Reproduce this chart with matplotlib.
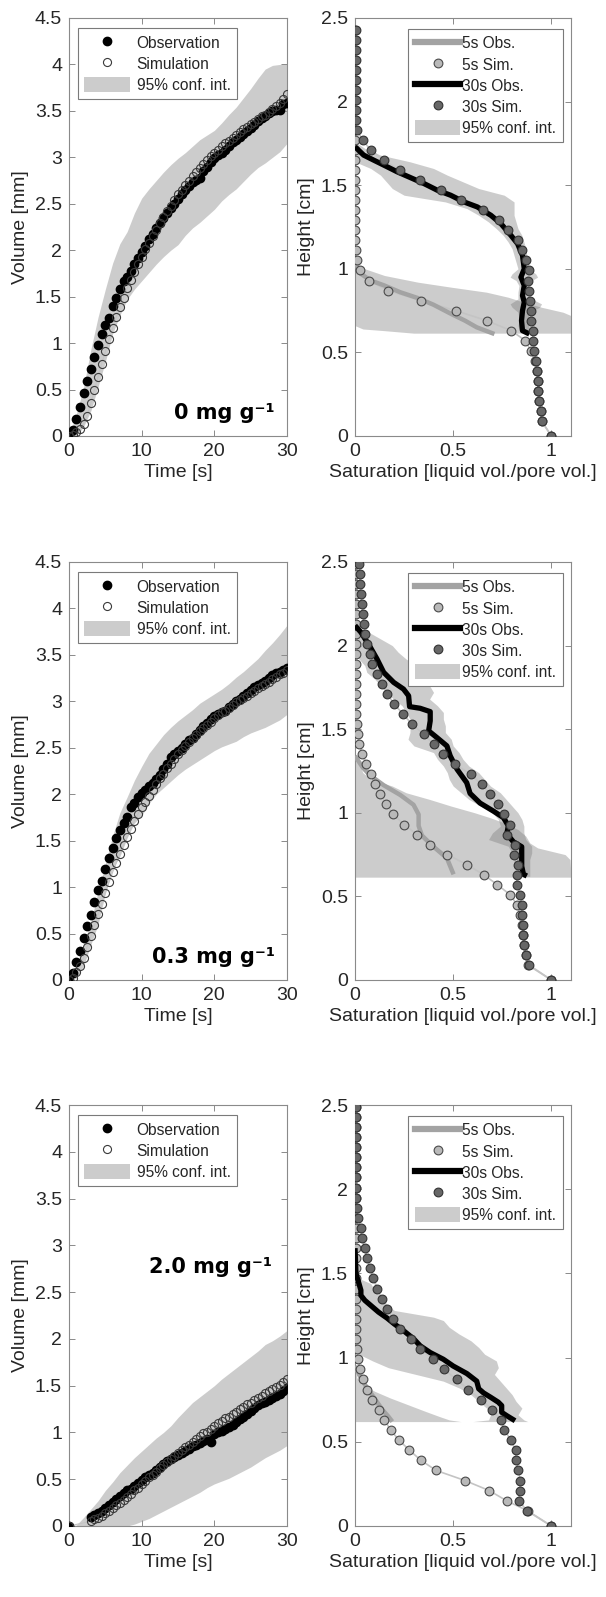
import numpy as np
import matplotlib
matplotlib.use('Agg')
import matplotlib.pyplot as plt
from matplotlib.ticker import FuncFormatter, FixedLocator
from matplotlib.lines import Line2D
from matplotlib.patches import Patch

plt.rcParams['font.family'] = ['Liberation Sans', 'DejaVu Sans']

# ---------------- left column: volume vs time ----------------
TIME = [0, 0.5, 1, 1.5, 2, 2.5, 3, 3.5, 4, 4.5, 5, 5.5, 6, 6.5, 7, 7.5, 8, 8.5, 9, 9.5,
        10, 10.5, 11, 11.5, 12, 12.5, 13, 13.5, 14, 14.5, 15, 15.5, 16, 16.5, 17, 17.5,
        18, 18.5, 19, 19.5, 20, 20.5, 21, 21.5, 22, 22.5, 23, 23.5, 24, 24.5, 25, 25.5,
        26, 26.5, 27, 27.5, 28, 28.5, 29, 29.5, 30]

OBS_0 = [0, 0.06, 0.18, 0.31, 0.46, 0.59, 0.72, 0.85, 0.98, 1.10, 1.19, 1.27, 1.40, 1.49,
         1.58, 1.67, 1.71, 1.78, 1.85, 1.92, 1.98, 2.05, 2.12, 2.18, 2.24, 2.29, 2.35, 2.40,
         2.45, 2.50, 2.55, 2.60, 2.65, 2.69, 2.73, 2.76, 2.78, 2.85, 2.90, 2.95, 2.99, 3.02,
         3.05, 3.08, 3.12, 3.16, 3.19, 3.22, 3.25, 3.28, 3.32, 3.35, 3.39, 3.42, 3.45, 3.48,
         3.50, 3.51, 3.51, 3.57, 3.59]
SIM_0 = [0, 0.01, 0.04, 0.07, 0.13, 0.22, 0.35, 0.50, 0.64, 0.78, 0.91, 1.04, 1.16, 1.28,
         1.39, 1.49, 1.59, 1.68, 1.77, 1.85, 1.93, 2.01, 2.08, 2.15, 2.22, 2.29, 2.36, 2.42,
         2.48, 2.54, 2.60, 2.65, 2.70, 2.75, 2.80, 2.84, 2.89, 2.93, 2.97, 3.01, 3.05, 3.08,
         3.12, 3.15, 3.18, 3.21, 3.24, 3.27, 3.30, 3.33, 3.36, 3.38, 3.41, 3.44, 3.46, 3.49,
         3.52, 3.55, 3.59, 3.63, 3.68]

OBS_03 = [0, 0.07, 0.19, 0.31, 0.45, 0.58, 0.70, 0.84, 0.97, 1.07, 1.19, 1.31, 1.42, 1.53,
          1.61, 1.69, 1.76, 1.86, 1.91, 1.97, 2.01, 2.05, 2.09, 2.12, 2.16, 2.21, 2.27, 2.33,
          2.40, 2.43, 2.47, 2.50, 2.54, 2.58, 2.61, 2.65, 2.69, 2.73, 2.77, 2.81, 2.84, 2.86,
          2.88, 2.90, 2.94, 2.97, 3.00, 3.03, 3.06, 3.09, 3.12, 3.15, 3.18, 3.20, 3.22, 3.25,
          3.28, 3.30, 3.32, 3.34, 3.36]
SIM_03 = [0, 0.02, 0.09, 0.15, 0.24, 0.36, 0.47, 0.59, 0.71, 0.82, 0.94, 1.05, 1.16, 1.26,
          1.36, 1.45, 1.54, 1.63, 1.71, 1.79, 1.86, 1.92, 1.98, 2.05, 2.11, 2.17, 2.22, 2.28,
          2.33, 2.38, 2.43, 2.48, 2.52, 2.56, 2.60, 2.64, 2.68, 2.71, 2.74, 2.78, 2.82, 2.85,
          2.88, 2.90, 2.93, 2.96, 2.99, 3.01, 3.04, 3.06, 3.09, 3.11, 3.14, 3.16, 3.19, 3.21,
          3.24, 3.26, 3.29, 3.31, 3.34]

TIME_20 = [0, 3, 3.5, 4, 4.5, 5, 5.5, 6, 6.5, 7, 7.5, 8, 8.5, 9, 9.5, 10, 10.5, 11, 11.5,
           12, 12.5, 13, 13.5, 14, 14.5, 15, 15.5, 16, 16.5, 17, 17.5, 18, 18.5, 19, 19.5,
           20, 20.5, 21, 21.5, 22, 22.5, 23, 23.5, 24, 24.5, 25, 25.5, 26, 26.5, 27, 27.5,
           28, 28.5, 29, 29.5, 30]
OBS_20 = [0, 0.10, 0.12, 0.14, 0.16, 0.19, 0.22, 0.26, 0.29, 0.32, 0.35, 0.38, 0.40, 0.43,
          0.46, 0.49, 0.52, 0.55, 0.57, 0.60, 0.63, 0.66, 0.69, 0.72, 0.74, 0.76, 0.78, 0.80,
          0.82, 0.85, 0.87, 0.89, 0.91, 0.93, 0.90, 0.98, 1.00, 1.02, 1.04, 1.06, 1.08, 1.11,
          1.14, 1.17, 1.20, 1.23, 1.26, 1.29, 1.31, 1.33, 1.35, 1.37, 1.39, 1.41, 1.44, 1.47]
SIM_20 = [0, 0.05, 0.07, 0.09, 0.11, 0.14, 0.16, 0.19, 0.22, 0.25, 0.28, 0.31, 0.34, 0.38,
          0.41, 0.45, 0.48, 0.52, 0.55, 0.58, 0.62, 0.65, 0.68, 0.72, 0.75, 0.78, 0.81, 0.84,
          0.87, 0.90, 0.93, 0.96, 0.99, 1.01, 1.04, 1.07, 1.10, 1.12, 1.15, 1.17, 1.20, 1.22,
          1.25, 1.27, 1.30, 1.32, 1.35, 1.37, 1.39, 1.42, 1.44, 1.46, 1.49, 1.51, 1.54, 1.57]

TIME_CI = [0, 1, 2, 3, 4, 5, 6, 7, 8, 9, 10, 11, 12, 13, 14, 15, 16, 17, 18, 19, 20,
           21, 22, 23, 24, 25, 26, 27, 28, 29, 30]
CI_LO_0 = [0, 0.0, 0.10, 0.27, 0.53, 0.80, 1.10, 1.30, 1.47, 1.58, 1.67, 1.76, 1.85, 1.93,
           2.00, 2.06, 2.16, 2.24, 2.30, 2.37, 2.44, 2.53, 2.60, 2.66, 2.74, 2.82, 2.89,
           2.94, 3.00, 3.06, 3.15]
CI_HI_0 = [0, 0.23, 0.52, 0.93, 1.28, 1.58, 1.86, 2.07, 2.20, 2.40, 2.56, 2.66, 2.75, 2.84,
           2.92, 2.99, 3.05, 3.12, 3.19, 3.24, 3.29, 3.37, 3.46, 3.54, 3.64, 3.74, 3.85,
           3.95, 3.99, 4.00, 4.01]
CI_LO_03 = [0, 0.02, 0.15, 0.38, 0.60, 0.93, 1.20, 1.33, 1.53, 1.69, 1.77, 1.90, 2.00, 2.07,
            2.14, 2.21, 2.27, 2.32, 2.37, 2.42, 2.47, 2.51, 2.54, 2.57, 2.62, 2.66, 2.69,
            2.72, 2.76, 2.80, 2.86]
CI_HI_03 = [0, 0.14, 0.38, 0.62, 0.95, 1.25, 1.55, 1.80, 1.97, 2.15, 2.30, 2.44, 2.54, 2.64,
            2.72, 2.79, 2.85, 2.91, 2.98, 3.03, 3.08, 3.13, 3.19, 3.26, 3.32, 3.39, 3.46,
            3.55, 3.63, 3.72, 3.82]
CI_LO_20 = [0, 0, 0, 0, 0, 0, 0, 0, 0.0, 0.02, 0.05, 0.08, 0.12, 0.16, 0.20, 0.24, 0.28,
            0.32, 0.36, 0.41, 0.45, 0.48, 0.51, 0.55, 0.59, 0.63, 0.68, 0.73, 0.77, 0.81, 0.86]
CI_HI_20 = [0, 0.01, 0.09, 0.18, 0.27, 0.38, 0.47, 0.57, 0.65, 0.73, 0.80, 0.87, 0.94, 1.00,
            1.07, 1.16, 1.24, 1.32, 1.38, 1.44, 1.50, 1.57, 1.63, 1.69, 1.75, 1.81, 1.87,
            1.94, 1.98, 2.03, 2.09]

CONC_LABELS = ['0 mg g\u207b\u00b9', '0.3 mg g\u207b\u00b9', '2.0 mg g\u207b\u00b9']

# ---------------- right column: saturation profiles ----------------
NAN = float('nan')
HEIGHT = [0.00, 0.09, 0.15, 0.21, 0.27, 0.33, 0.39, 0.45, 0.51, 0.57, 0.63, 0.69, 0.75,
          0.81, 0.87, 0.93, 0.99, 1.05, 1.11, 1.17, 1.23, 1.29, 1.35, 1.41, 1.47, 1.53,
          1.59, 1.65, 1.71, 1.77, 1.83, 1.89, 1.95, 2.01, 2.07, 2.13, 2.19, 2.25, 2.31,
          2.37, 2.43, 2.49]

SIM30_0 = [1.00, 0.95, 0.945, 0.938, 0.931, 0.931, 0.927, 0.921, 0.912, 0.907, 0.904, 0.898,
           0.894, 0.89, 0.886, 0.881, 0.887, 0.87, 0.85, 0.83, 0.78, 0.735, 0.65, 0.54, 0.44,
           0.33, 0.227, 0.146, 0.08, 0.039, 0.008, 0.004, 0.004, 0.004, 0.004, 0.004, 0.004,
           0.004, 0.004, 0.004, 0.004, NAN]
SIM5_0 = [1.00, 0.95, 0.945, 0.938, 0.931, 0.931, 0.927, 0.915, 0.895, 0.868, 0.796, 0.671,
          0.512, 0.334, 0.17, 0.069, 0.027, 0.008, 0.003, 0.002, 0.002, 0.002, 0.002, 0.002,
          0.002, 0.002, 0.002, 0.002, 0.002, 0.002, 0.002, 0.002, 0.002, 0.002, 0.002, 0.002,
          0.002, 0.002, 0.002, 0.002, 0.002, NAN]
OBS30_0_S = [0.0, 0.044, 0.095, 0.147, 0.215, 0.283, 0.351, 0.419, 0.487, 0.555, 0.623, 0.692,
             0.743, 0.794, 0.828, 0.853, 0.862, 0.845, 0.862, 0.853, 0.862, 0.853, 0.848,
             0.853, 0.888]
OBS30_0_H = [1.73, 1.68, 1.65, 1.62, 1.58, 1.545, 1.51, 1.47, 1.44, 1.40, 1.37, 1.32, 1.27,
             1.20, 1.15, 1.08, 1.00, 0.95, 0.90, 0.84, 0.80, 0.75, 0.69, 0.63, 0.61]
OBS5_0_S = [0.0, 0.03, 0.08, 0.15, 0.23, 0.32, 0.40, 0.49, 0.56, 0.62, 0.71]
OBS5_0_H = [1.04, 0.97, 0.93, 0.90, 0.86, 0.825, 0.785, 0.73, 0.69, 0.65, 0.61]
B30_0_H = [1.76, 1.72, 1.68, 1.64, 1.60, 1.56, 1.52, 1.48, 1.44, 1.40, 1.36, 1.32, 1.28, 1.24,
           1.20, 1.16, 1.12, 1.08, 1.04, 1.00, 0.97, 0.95, 0.93, 0.90, 0.86, 0.82, 0.79, 0.77,
           0.74, 0.70, 0.66, 0.62]
B30_0_L = [0.0, 0.0, 0.0, 0.0, 0.08, 0.13, 0.16, 0.19, 0.25, 0.46, 0.57, 0.63, 0.68, 0.72,
           0.755, 0.78, 0.80, 0.81, 0.82, 0.83, 0.80, 0.79, 0.82, 0.835, 0.83, 0.83, 0.79,
           0.80, 0.83, 0.835, 0.83, 0.84]
B30_0_R = [0.0, 0.05, 0.13, 0.28, 0.40, 0.47, 0.55, 0.63, 0.76, 0.81, 0.81, 0.81, 0.82, 0.83,
           0.85, 0.86, 0.87, 0.875, 0.88, 0.885, 0.92, 0.93, 0.90, 0.88, 0.885, 0.90, 0.95,
           0.94, 0.89, 0.88, 0.885, 0.89]
B5_0_H = [1.03, 1.00, 0.96, 0.92, 0.89, 0.86, 0.83, 0.80, 0.77, 0.74, 0.72, 0.68, 0.66, 0.64,
          0.63, 0.615]
B5_0_L = [0, 0, 0, 0, 0, 0, 0, 0, 0, 0, 0, 0, 0, 0.04, 0.15, 0.30]
B5_0_R = [0.0, 0.05, 0.15, 0.32, 0.49, 0.67, 0.78, 0.86, 0.95, 1.06, 1.1, 1.1, 1.1, 1.1, 1.1, 1.1]

SIM30_03 = [1.0, 0.886, 0.87, 0.86, 0.858, 0.856, 0.852, 0.848, 0.84, 0.825, 0.824, 0.83,
            0.81, 0.815, 0.775, 0.79, 0.76, 0.73, 0.69, 0.645, 0.59, 0.51, 0.45, 0.40, 0.35,
            0.29, 0.245, 0.20, 0.165, 0.14, 0.11, 0.088, 0.075, 0.06, 0.05, 0.045, 0.04,
            0.035, 0.03, 0.027, 0.025, 0.022]
SIM5_03 = [1.0, 0.88, 0.87, 0.86, 0.855, 0.85, 0.84, 0.825, 0.79, 0.725, 0.655, 0.57, 0.47,
           0.38, 0.315, 0.25, 0.195, 0.16, 0.128, 0.10, 0.08, 0.058, 0.038, 0.022, 0.014,
           0.01, 0.007, 0.005, 0.004, 0.003, 0.003, 0.003, 0.003, 0.003, 0.003, 0.003, 0.003,
           0.003, 0.003, 0.003, 0.003, 0.003]
OBS30_03_S = [0.0, 0.03, 0.078, 0.112, 0.146, 0.197, 0.247, 0.273, 0.278, 0.332, 0.383, 0.383,
              0.375, 0.417, 0.468, 0.485, 0.52, 0.569, 0.586, 0.637, 0.705, 0.756, 0.781,
              0.773, 0.807, 0.849, 0.849, 0.849, 0.858, 0.875]
OBS30_03_H = [2.12, 2.08, 1.99, 1.92, 1.84, 1.78, 1.74, 1.70, 1.635, 1.625, 1.605, 1.55, 1.49,
              1.45, 1.40, 1.34, 1.26, 1.18, 1.116, 1.058, 1.01, 0.971, 0.922, 0.874, 0.826,
              0.797, 0.738, 0.68, 0.632, 0.622]
OBS5_03_S = [0.0, 0.04, 0.078, 0.146, 0.23, 0.298, 0.324, 0.324, 0.341, 0.40, 0.468, 0.485, 0.502]
OBS5_03_H = [1.34, 1.27, 1.223, 1.165, 1.107, 1.048, 0.99, 0.922, 0.864, 0.797, 0.729, 0.68, 0.632]
B30_03_H = [2.12, 2.08, 2.04, 2.00, 1.96, 1.92, 1.88, 1.84, 1.80, 1.76, 1.72, 1.68, 1.64, 1.60,
            1.56, 1.52, 1.48, 1.44, 1.40, 1.36, 1.32, 1.28, 1.24, 1.20, 1.16, 1.12, 1.08, 1.04,
            1.00, 0.96, 0.92, 0.88, 0.84, 0.80, 0.76, 0.72, 0.68, 0.64, 0.62]
B30_03_L = [0.0, 0.0, 0.0, 0.0, 0.01, 0.02, 0.05, 0.06, 0.10, 0.13, 0.16, 0.197, 0.24, 0.26,
            0.28, 0.28, 0.28, 0.27, 0.30, 0.40, 0.42, 0.45, 0.47, 0.48, 0.50, 0.54, 0.58, 0.64,
            0.70, 0.73, 0.74, 0.70, 0.68, 0.78, 0.80, 0.81, 0.81, 0.82, 0.82]
B30_03_R = [0.0, 0.07, 0.13, 0.19, 0.22, 0.26, 0.31, 0.34, 0.37, 0.38, 0.40, 0.38, 0.42, 0.45,
            0.45, 0.46, 0.46, 0.49, 0.50, 0.53, 0.55, 0.58, 0.63, 0.66, 0.69, 0.74, 0.77, 0.80,
            0.83, 0.85, 0.86, 0.86, 0.87, 0.90, 0.90, 0.89, 0.89, 0.89, 0.89]
B5_03_H = [1.35, 1.30, 1.24, 1.20, 1.16, 1.12, 1.08, 1.04, 1.00, 0.97, 0.94, 0.90, 0.86, 0.82,
           0.79, 0.77, 0.75, 0.72, 0.615]
B5_03_R = [0.0, 0.02, 0.04, 0.08, 0.19, 0.26, 0.38, 0.49, 0.61, 0.69, 0.76, 0.83, 0.87, 0.89,
           0.93, 1.00, 1.07, 1.095, 1.1]

SIM30_20 = [1.0, 0.876, 0.834, 0.84, 0.842, 0.832, 0.82, 0.818, 0.794, 0.76, 0.744, 0.70,
            0.643, 0.577, 0.518, 0.452, 0.399, 0.332, 0.283, 0.23, 0.195, 0.163, 0.135, 0.113,
            0.094, 0.077, 0.06, 0.05, 0.035, 0.029, 0.017, 0.009, 0.005, 0.004, 0.004, 0.004,
            0.004, 0.004, 0.004, 0.004, 0.004, 0.004]
SIM5_20 = [1.0, 0.88, 0.772, 0.684, 0.56, 0.413, 0.336, 0.277, 0.224, 0.181, 0.15, 0.124,
           0.086, 0.062, 0.043, 0.025, 0.015, 0.01, 0.007, 0.005, 0.004, 0.003, 0.003, 0.003,
           0.003, 0.003, 0.003, 0.003, 0.003, 0.003, 0.003, 0.003, 0.003, 0.003, 0.003, 0.003,
           0.003, 0.003, 0.003, 0.003, 0.003, 0.003]
OBS30_20_S = [0.0, 0.005, 0.02, 0.03, 0.03, 0.05, 0.08, 0.12, 0.163, 0.20, 0.247, 0.30, 0.332,
              0.383, 0.45, 0.50, 0.57, 0.62, 0.63, 0.655, 0.69, 0.73, 0.747, 0.747, 0.773, 0.815]
OBS30_20_H = [1.65, 1.50, 1.44, 1.40, 1.37, 1.34, 1.31, 1.27, 1.235, 1.20, 1.16, 1.11, 1.07,
              1.03, 0.99, 0.95, 0.905, 0.86, 0.815, 0.79, 0.765, 0.735, 0.715, 0.675, 0.655, 0.625]
OBS5_20_S = [0.0, 0.02, 0.05, 0.08, 0.11, 0.14, 0.17, 0.19]
OBS5_20_H = [0.95, 0.90, 0.84, 0.79, 0.74, 0.69, 0.65, 0.62]
B30_20_H = [1.47, 1.44, 1.40, 1.36, 1.32, 1.28, 1.26, 1.24, 1.22, 1.18, 1.14, 1.10, 1.06, 1.02,
            0.98, 0.94, 0.90, 0.86, 0.82, 0.78, 0.74, 0.70, 0.66, 0.63, 0.62]
B30_20_L = [0.0, 0.0, 0.0, 0.0, 0.0, 0.0, 0.0, 0.0, 0.0, 0.0, 0.0, 0.0, 0.005, 0.02, 0.09,
            0.17, 0.31, 0.45, 0.53, 0.59, 0.63, 0.67, 0.69, 0.68, 0.60]
B30_20_R = [0.02, 0.08, 0.10, 0.13, 0.16, 0.20, 0.30, 0.40, 0.45, 0.48, 0.53, 0.59, 0.63, 0.66,
            0.72, 0.73, 0.71, 0.74, 0.77, 0.80, 0.82, 0.85, 0.83, 0.86, 0.88]
B5_20_H = [0.93, 0.88, 0.84, 0.80, 0.76, 0.72, 0.68, 0.65, 0.63, 0.62]
B5_20_R = [0.0, 0.01, 0.04, 0.10, 0.18, 0.27, 0.36, 0.43, 0.48, 0.54]

# ---------------- drawing ----------------
SPINE = '#8a8a8a'
TXT = '#262626'
BAND_C = '#7a7a7a'
BAND_A = 0.38
BAND_LEG = '#cccccc'
C5_OBS = '#a3a3a3'
C5_SIM = '#b9b9b9'
C30_SIM = '#676767'
SIMLINE = '#c4c4c4'

fig = plt.figure(figsize=(6.06, 15.97), dpi=100)
W, Hf = 606.0, 1597.0
rows = [(18, 436), (562, 980), (1105, 1526)]
fmt = FuncFormatter(lambda v, p: '%g' % v)


def style(ax, xt, yt):
    for s in ax.spines.values():
        s.set_color(SPINE)
        s.set_linewidth(0.8)
    ax.tick_params(direction='in', length=4.5, width=0.7, colors=SPINE,
                   labelcolor=TXT, labelsize=14, top=True, right=True, pad=5)
    ax.xaxis.set_major_locator(FixedLocator(xt))
    ax.yaxis.set_major_locator(FixedLocator(yt))
    ax.xaxis.set_major_formatter(fmt)
    ax.yaxis.set_major_formatter(fmt)


def framed_legend(ax, handles, labels, loc, anchor, textpad):
    leg = ax.legend(handles, labels, loc=loc, bbox_to_anchor=anchor, borderaxespad=0,
                    fontsize=11.2, handlelength=2.9, handleheight=1.15,
                    handletextpad=textpad, labelspacing=0.33, borderpad=0.42,
                    fancybox=False, framealpha=1)
    leg.get_frame().set_edgecolor('#7a7a7a')
    leg.get_frame().set_linewidth(0.8)
    for tx in leg.get_texts():
        tx.set_color(TXT)
    return leg


left_data = [(TIME, OBS_0, SIM_0, CI_LO_0, CI_HI_0),
             (TIME, OBS_03, SIM_03, CI_LO_03, CI_HI_03),
             (TIME_20, OBS_20, SIM_20, CI_LO_20, CI_HI_20)]
label_pos = [(0.945, 0.055), (0.945, 0.055), (0.93, 0.615)]

right_data = [
    (SIM5_0, SIM30_0, OBS5_0_S, OBS5_0_H, OBS30_0_S, OBS30_0_H,
     (B30_0_H, B30_0_L, B30_0_R), (B5_0_H, B5_0_L, B5_0_R)),
    (SIM5_03, SIM30_03, OBS5_03_S, OBS5_03_H, OBS30_03_S, OBS30_03_H,
     (B30_03_H, B30_03_L, B30_03_R), (B5_03_H, [0] * len(B5_03_H), B5_03_R)),
    (SIM5_20, SIM30_20, OBS5_20_S, OBS5_20_H, OBS30_20_S, OBS30_20_H,
     (B30_20_H, B30_20_L, B30_20_R), (B5_20_H, [0] * len(B5_20_H), B5_20_R)),
]

for i, (top, bot) in enumerate(rows):
    # left
    axl = fig.add_axes([69 / W, 1 - bot / Hf, 218 / W, (bot - top) / Hf])
    t, obs, sim, lo, hi = left_data[i]
    axl.fill_between(TIME_CI, lo, hi, color=BAND_C, alpha=BAND_A, lw=0)
    axl.plot(t, sim, color=SIMLINE, lw=0.8, zorder=2)
    axl.plot(t, obs, ls='none', marker='o', ms=6, mfc='black', mec='black', zorder=3)
    axl.plot(t, sim, ls='none', marker='o', ms=5.8, mfc='none', mec='#3a3a3a',
             mew=0.8, zorder=4)
    axl.set_xlim(0, 30)
    axl.set_ylim(0, 4.5)
    style(axl, [0, 10, 20, 30], [0, 0.5, 1, 1.5, 2, 2.5, 3, 3.5, 4, 4.5])
    axl.set_xlabel('Time [s]', fontsize=14, color=TXT, labelpad=3)
    axl.set_ylabel('Volume [mm]', fontsize=14, color=TXT, labelpad=4)
    lx, ly = label_pos[i]
    axl.text(lx, ly, CONC_LABELS[i], transform=axl.transAxes, ha='right', va='center',
             fontsize=15, fontweight='bold', family='DejaVu Sans', color='black')
    hl = [Line2D([], [], ls='none', marker='o', ms=6, mfc='black', mec='black'),
          Line2D([], [], ls='none', marker='o', ms=5.8, mfc='none', mec='#3a3a3a', mew=0.8),
          Patch(facecolor=BAND_LEG, edgecolor='none')]
    framed_legend(axl, hl, ['Observation', 'Simulation', '95% conf. int.'],
                  'upper left', (0.041, 0.976), 0.45)

    # right
    axr = fig.add_axes([355 / W, 1 - bot / Hf, 216 / W, (bot - top) / Hf])
    s5, s30, o5s, o5h, o30s, o30h, b30, b5 = right_data[i]
    axr.fill_betweenx(b30[0], b30[1], b30[2], color=BAND_C, alpha=BAND_A, lw=0)
    axr.fill_betweenx(b5[0], b5[1], b5[2], color=BAND_C, alpha=BAND_A, lw=0)
    axr.plot(s5, HEIGHT, color=SIMLINE, lw=1.2, zorder=2)
    axr.plot(s30, HEIGHT, color=SIMLINE, lw=1.2, zorder=2)
    axr.plot(o5s, o5h, color=C5_OBS, lw=3.2, solid_capstyle='butt', zorder=3)
    axr.plot(s5, HEIGHT, ls='none', marker='o', ms=6.3, mfc=C5_SIM, mec='#4a4a4a',
             mew=0.8, zorder=4)
    axr.plot(o30s, o30h, color='black', lw=3.8, solid_capstyle='butt', zorder=5)
    axr.plot(s30, HEIGHT, ls='none', marker='o', ms=6.3, mfc=C30_SIM, mec='#333333',
             mew=0.8, zorder=6)
    axr.set_xlim(0, 1.1)
    axr.set_ylim(0, 2.5)
    style(axr, [0, 0.5, 1], [0, 0.5, 1, 1.5, 2, 2.5])
    axr.set_xlabel('Saturation [liquid vol./pore vol.]', fontsize=14, color=TXT, labelpad=3)
    axr.set_ylabel('Height [cm]', fontsize=14, color=TXT, labelpad=4)
    hr = [Line2D([], [], color=C5_OBS, lw=4.5),
          Line2D([], [], ls='none', marker='o', ms=6.3, mfc=C5_SIM, mec='#4a4a4a', mew=0.8),
          Line2D([], [], color='black', lw=4.5),
          Line2D([], [], ls='none', marker='o', ms=6.3, mfc=C30_SIM, mec='#333333', mew=0.8),
          Patch(facecolor=BAND_LEG, edgecolor='none')]
    framed_legend(axr, hr, ['5s Obs.', '5s Sim.', '30s Obs.', '30s Sim.', '95% conf. int.'],
                  'upper right', (0.963, 0.974), 0.15)

fig.savefig('out.png', dpi=100)
